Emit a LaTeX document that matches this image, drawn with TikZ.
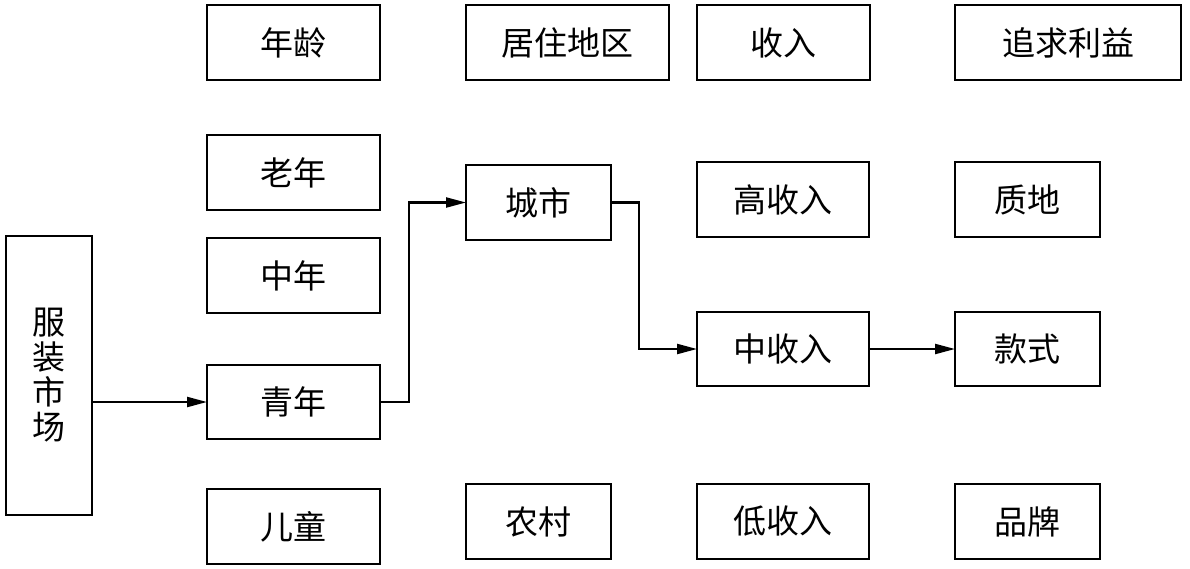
\documentclass[tikz,border=0pt]{standalone}
\usepackage{fontspec}
\setmainfont{Noto Sans CJK SC}
\usetikzlibrary{arrows.meta}
\begin{document}
\begin{tikzpicture}[x=1pt,y=-1pt,
  box/.style={draw, line width=2.6pt, inner sep=0pt, outer sep=0pt, anchor=north west,
    font=\fontsize{33}{35}\selectfont, align=center},
  conn/.style={line width=2.2pt, -{Triangle[length=20pt,width=10pt]}}]
\path[use as bounding box] (0,0) rectangle (1190,568);
% column 0
\node[box, minimum width=86pt, minimum height=279pt] (M) at (6,236) {服\\装\\市\\场};
% column 1
\node[box, minimum width=173pt, minimum height=75pt] (A) at (207,5) {年龄};
\node[box, minimum width=173pt, minimum height=75pt] (A1) at (207,135) {老年};
\node[box, minimum width=173pt, minimum height=75pt] (A2) at (207,238) {中年};
\node[box, minimum width=173pt, minimum height=74pt] (A3) at (207,365) {青年};
\node[box, minimum width=173pt, minimum height=75pt] (A4) at (207,489) {儿童};
% column 2
\node[box, minimum width=203pt, minimum height=75pt] (R) at (466,5) {居住地区};
\node[box, minimum width=145pt, minimum height=75pt] (R1) at (466,165) {城市};
\node[box, minimum width=145pt, minimum height=75pt] (R2) at (466,484) {农村};
% column 3
\node[box, minimum width=173pt, minimum height=75pt] (I) at (697,5) {收入};
\node[box, minimum width=172pt, minimum height=75pt] (I1) at (697,162) {高收入};
\node[box, minimum width=172pt, minimum height=74pt] (I2) at (697,312) {中收入};
\node[box, minimum width=172pt, minimum height=75pt] (I3) at (697,484) {低收入};
% column 4
\node[box, minimum width=226pt, minimum height=75pt] (B) at (955,5) {追求利益};
\node[box, minimum width=145pt, minimum height=75pt] (B1) at (955,162) {质地};
\node[box, minimum width=145pt, minimum height=74pt] (B2) at (955,312) {款式};
\node[box, minimum width=145pt, minimum height=75pt] (B3) at (955,484) {品牌};
% connectors
\draw[conn] (A3.west -| M.east) -- (A3.west);
\draw[conn] (A3.east) -- ++(29,0) |- (R1.west);
\draw[conn] (R1.east) -- ++(28,0) |- (I2.west);
\draw[conn] (I2.east) -- (B2.west);
\end{tikzpicture}
\end{document}
